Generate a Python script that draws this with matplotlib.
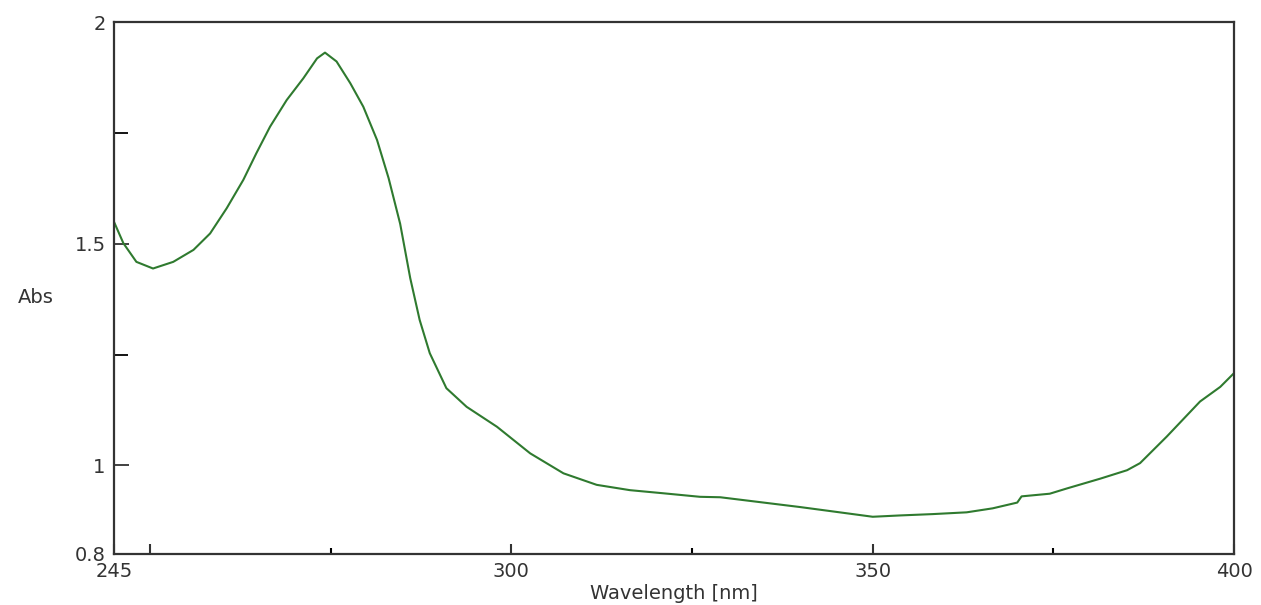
import numpy as np
import matplotlib
matplotlib.use('Agg')
import matplotlib.pyplot as plt

# absorbance spectrum
wavelength = [244.9, 246.3, 248.1, 250.4, 253.2, 256.0, 258.3, 260.6, 262.9, 264.7,
              266.6, 268.9, 271.2, 273.1, 274.2, 275.8, 277.7, 279.5, 281.4, 283.0,
              284.6, 286.0, 287.3, 288.7, 291.0, 293.8, 298.0, 302.6, 307.2, 311.8,
              316.4, 321.0, 326.1, 328.9, 335.4, 339.9, 344.5, 350.0, 353.8, 358.3,
              363.0, 366.6, 370.0, 370.6, 374.5, 376.9, 381.5, 385.2, 387.0, 390.7,
              395.3, 398.1, 400.0]
absorbance = [1.553, 1.501, 1.459, 1.444, 1.459, 1.486, 1.523, 1.580, 1.644, 1.704,
              1.764, 1.824, 1.873, 1.918, 1.931, 1.911, 1.862, 1.809, 1.734, 1.648,
              1.545, 1.422, 1.328, 1.253, 1.174, 1.132, 1.087, 1.027, 0.982, 0.956,
              0.944, 0.937, 0.929, 0.928, 0.915, 0.906, 0.896, 0.884, 0.887, 0.890,
              0.894, 0.903, 0.916, 0.930, 0.936, 0.948, 0.970, 0.989, 1.005, 1.065,
              1.144, 1.177, 1.208]

x_ticks = [245, 250, 300, 350, 400]
x_tick_labels = ['245', '', '300', '350', '400']
x_minor = [275, 325, 375]
y_ticks = [0.8, 1, 1.5, 2]
y_tick_labels = ['0.8', '1', '1.5', '2']
y_minor = [1.25, 1.75]

plt.rcParams['font.family'] = ['DejaVu Sans']

fig = plt.figure(figsize=(12.61, 6.05), dpi=100)
ax = fig.add_axes([0.0904, 0.0843, 0.8882, 0.8793])

ax.plot(wavelength, absorbance, color='#2f7a2f', linewidth=1.5,
        solid_joinstyle='round')

ax.set_xlim(245, 400)
ax.set_ylim(0.8, 2)
ax.set_xticks(x_ticks)
ax.set_xticklabels(x_tick_labels)
ax.set_xticks(x_minor, minor=True)
ax.set_yticks(y_ticks)
ax.set_yticklabels(y_tick_labels)
ax.set_yticks(y_minor, minor=True)

ax.tick_params(axis='x', which='major', direction='in', length=7, width=1.5, pad=6,
               labelsize=14, colors='#333333')
ax.tick_params(axis='x', which='minor', direction='in', length=4, width=1.5)
ax.tick_params(axis='y', which='major', direction='in', length=11, width=1.3, pad=6,
               labelsize=14, colors='#333333')
ax.tick_params(axis='y', which='minor', direction='in', length=10, width=1.3)

for s in ax.spines.values():
    s.set_linewidth(1.6)
    s.set_color('#333333')

ax.set_xlabel('Wavelength [nm]', fontsize=14, color='#333333', labelpad=2)
ax.set_ylabel('Abs', fontsize=14, color='#333333', rotation=0, va='center', ha='center')
ax.yaxis.set_label_coords(-0.0696, 0.483)

fig.savefig('out.png', dpi=100, facecolor='white')
